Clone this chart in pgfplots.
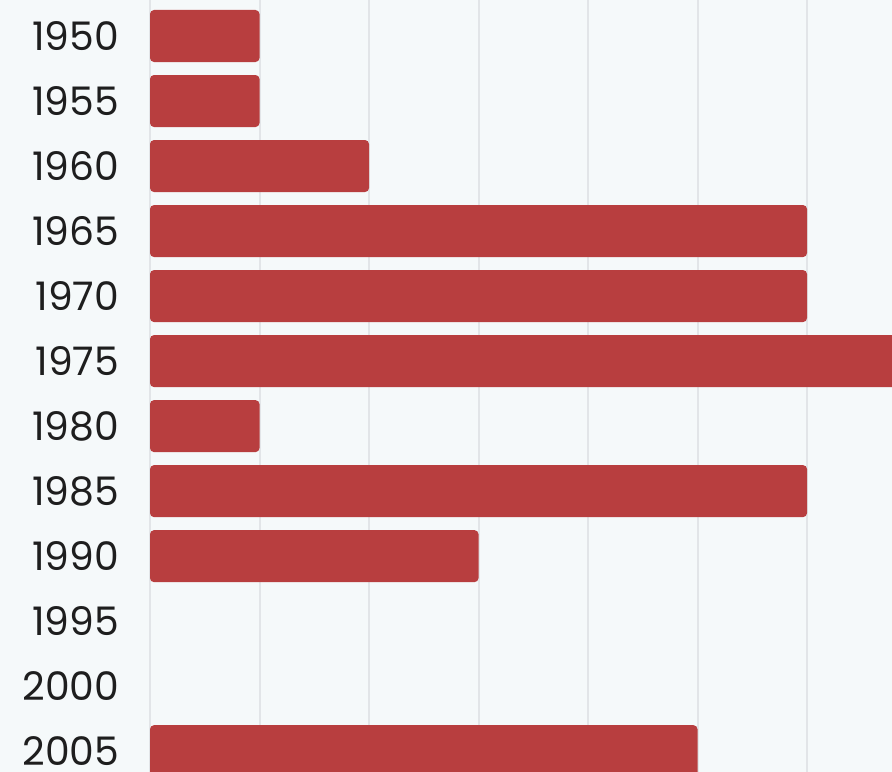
\documentclass[border=0pt]{standalone}
\usepackage{fontspec}
\setmainfont{Poppins}
\usepackage{pgfplots}
\pgfplotsset{compat=1.18}
\definecolor{barred}{HTML}{B83E3F}
\definecolor{bg}{HTML}{F5F9FA}
\definecolor{gridc}{HTML}{E2E5E8}
\definecolor{txt}{HTML}{1E1E1E}
\begin{document}
\begin{tikzpicture}
% picture is 892 x 772 px, 1 px = 0.3pt
\clip (0pt,0pt) rectangle (267.6pt,231.6pt);
\fill[bg] (0pt,0pt) rectangle (267.6pt,231.6pt);
\begin{axis}[
  at={(45pt,0pt)}, anchor=south west,
  scale only axis, width=222.6pt, height=231.6pt,
  xbar, bar width=0.8,
  xmin=0, xmax=6.776,
  ymin=-0.554, ymax=11.32, y dir=reverse,
  xtick={0,...,6}, xticklabels={},
  ytick={0,...,11},
  yticklabels={1950,1955,1960,1965,1970,1975,1980,1985,1990,1995,2000,2005},
  xmajorgrids, grid style={gridc, line width=0.6pt},
  axis line style={draw=none}, major tick style={draw=none},
  yticklabel style={font=\fontsize{11.8}{12}\selectfont, text=txt, inner sep=0pt, xshift=-4.8pt},
  /pgf/number format/assume math mode=true,
]
% 1995 and 2000 have value 0 (no bar)
\addplot[fill=barred, draw=none, rounded corners=1.2pt] coordinates {
  (1,0) (1,1) (2,2) (6,3) (6,4) (7,5) (1,6) (6,7) (3,8) (5,11)
};
\end{axis}
\end{tikzpicture}
\end{document}
